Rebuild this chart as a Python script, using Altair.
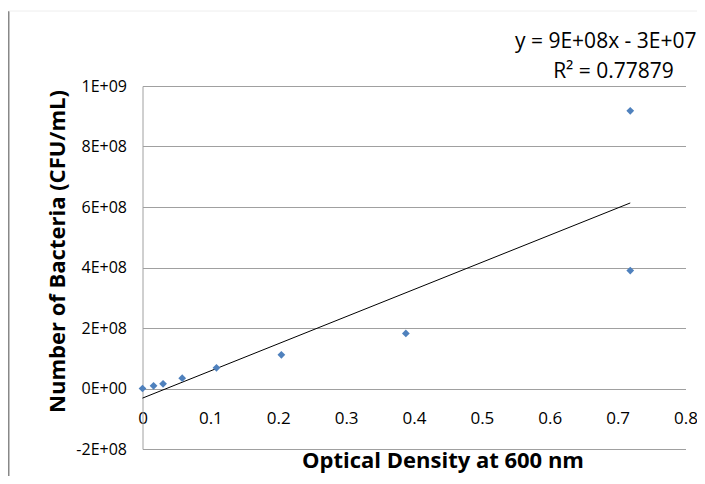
import altair as alt
import pandas as pd

# Data
od = [0.0, 0.0163, 0.0303, 0.0585, 0.109, 0.2046, 0.388, 0.7186, 0.7186]
cfu = [0.0, 0.9e7, 1.55e7, 3.4e7, 6.85e7, 1.115e8, 1.82e8, 3.9e8, 9.18e8]
x_ticks = [0, 0.1, 0.2, 0.3, 0.4, 0.5, 0.6, 0.7, 0.8]
y_ticks = [-2e8, 0, 2e8, 4e8, 6e8, 8e8, 1e9]
eq_line1 = "y = 9E+08x - 3E+07"
eq_line2 = "R² = 0.77879"
x_title = "Optical Density at 600 nm"
y_title = "Number of Bacteria (CFU/mL)"

df = pd.DataFrame({"od": od, "cfu": cfu})

W, H = 543, 363
FONT = "Open Sans"

xscale = alt.Scale(domain=[0, 0.8], nice=False, zero=False)
yscale = alt.Scale(domain=[-2e8, 1e9], nice=False, zero=False)

xaxis = alt.Axis(
    values=x_ticks, format="~g", grid=False, ticks=False, domain=False,
    offset=-60.5, labelPadding=22, labelFontSize=17, labelFont=FONT,
    labelFlush=False, labelOverlap=False, labelBound=False,
    labelColor="#000000", title=x_title, titleFont=FONT, titleFontSize=22,
    titleFontWeight="bold", titleColor="#000000", titleX=300, titleY=72,
    titleBaseline="middle", titleAlign="center",
)
yaxis = alt.Axis(
    values=y_ticks,
    labelExpr="replace(replace(format(datum.value, '.0e'), 'e+', 'E+0'), '\u2212', '-')",
    grid=True, gridColor="#a0a0a0", gridWidth=1, ticks=False,
    domain=True, domainColor="#a0a0a0", domainWidth=1,
    labelPadding=16, labelFontSize=16, labelFont=FONT, labelColor="#000000",
    labelFlush=False, labelOverlap=False,
    title=y_title, titleFont=FONT, titleFontSize=22, titleFontWeight="bold",
    titleColor="#000000", titleX=-85, titleY=165, titleAngle=-90,
    titleBaseline="middle", titleAlign="center",
)

base = alt.Chart(df)

points = base.mark_point(shape="diamond", filled=True, size=60, color="#4f81bd", opacity=1).encode(
    x=alt.X("od:Q", scale=xscale, axis=xaxis),
    y=alt.Y("cfu:Q", scale=yscale, axis=yaxis),
)

trend = base.transform_regression("od", "cfu").mark_line(color="#000000", strokeWidth=1).encode(
    x=alt.X("od:Q", scale=xscale),
    y=alt.Y("cfu:Q", scale=yscale),
)

one = alt.Chart(pd.DataFrame({"a": [0]}))

eq1 = one.mark_text(align="right", baseline="middle", font=FONT, fontSize=21, color="#000000").encode(
    x=alt.value(554), y=alt.value(-44), text=alt.value(eq_line1)
)
eq2 = one.mark_text(align="center", baseline="middle", font=FONT, fontSize=21, color="#000000").encode(
    x=alt.value(471), y=alt.value(-14), text=alt.value(eq_line2)
)

left_border = one.mark_rule(color="#888888", strokeWidth=2).encode(
    x=alt.value(-134), y=alt.value(-75), y2=alt.value(390)
)
top_border = one.mark_rule(color="#eeeeee", strokeWidth=1).encode(
    x=alt.value(-134), x2=alt.value(556), y=alt.value(-75)
)

chart = alt.layer(left_border, top_border, trend, points, eq1, eq2).properties(
    width=W, height=H,
    autosize=alt.AutoSizeParams(type="none"),
    padding={"left": 134.5, "top": 78, "right": 11.5, "bottom": 27},
    background="#ffffff",
).configure_view(stroke=None)

chart.save("out.html", embed_options={"renderer": "svg", "actions": False})
